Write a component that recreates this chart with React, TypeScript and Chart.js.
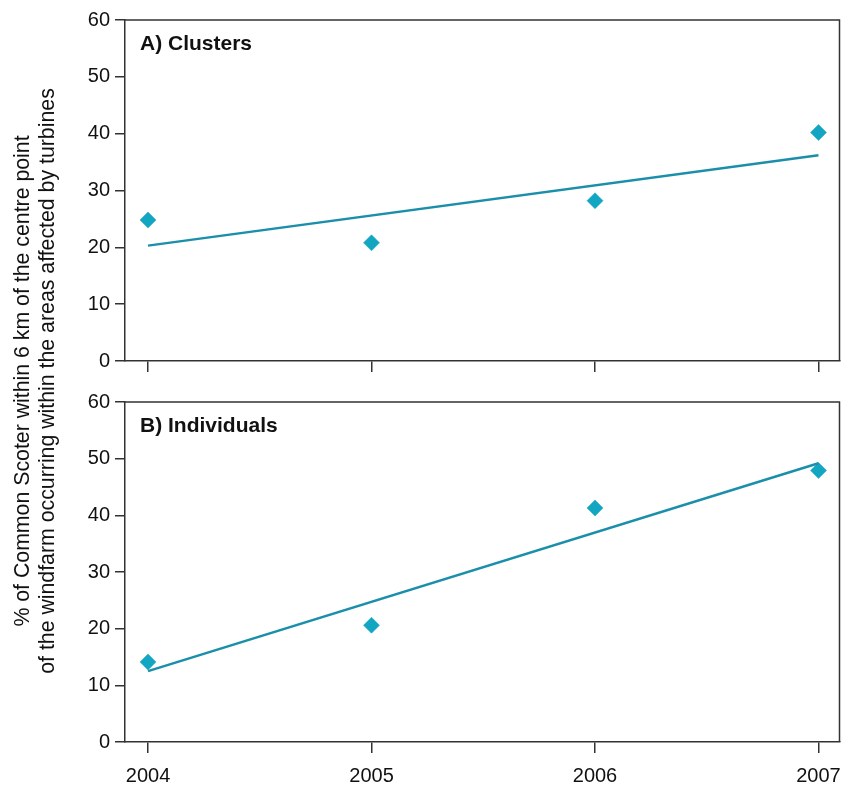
import { useEffect, useRef } from "react";
import { Chart, registerables } from "chart.js";

Chart.register(...registerables);

// ---- data ----
const years = [2004, 2005, 2006, 2007];
const clusters = [24.8, 20.8, 28.2, 40.2];
const trendYears = [2004, 2007];
const clustersTrend = [20.3, 36.2];
const individuals = [14.1, 20.6, 41.3, 47.9];
const individualsTrend = [12.5, 49.2];
const yTicks = [0, 10, 20, 30, 40, 50, 60];
const panelTitles = ["A) Clusters", "B) Individuals"];
const yTitleLines = [
  "% of Common Scoter within 6 km of the centre point",
  "of the windfarm occurring within the areas affected by turbines",
];

const FONT = "'Liberation Sans', Arial, Helvetica, sans-serif";
const AXIS = "#333333";
const POINT = "#12a6c2";
const LINE = "#1b8fa9";

function makeChart(
  canvas: HTMLCanvasElement,
  title: string,
  values: number[],
  trend: number[],
  showXLabels: boolean,
  padTop: number,
  xHeight: number
) {
  const boxPlugin = {
    id: "boxAndTitle",
    afterDraw(chart: any) {
      const { ctx, chartArea } = chart;
      const { left, right, top, bottom } = chartArea;
      ctx.save();
      ctx.strokeStyle = AXIS;
      ctx.lineWidth = 1.5;
      ctx.beginPath();
      ctx.moveTo(left, top);
      ctx.lineTo(right, top);
      ctx.lineTo(right, bottom);
      ctx.stroke();
      ctx.fillStyle = "#111";
      ctx.font = `bold 21px ${FONT}`;
      ctx.textBaseline = "middle";
      ctx.textAlign = "left";
      ctx.fillText(title, left + 15, top + 24);
      ctx.restore();
    },
  };

  return new Chart(canvas, {
    type: "scatter",
    data: {
      datasets: [
        {
          label: "trend",
          data: trendYears.map((x, i) => ({ x, y: trend[i] })),
          showLine: true,
          borderColor: LINE,
          borderWidth: 2.5,
          pointRadius: 0,
          fill: false,
        },
        {
          label: "values",
          data: years.map((x, i) => ({ x, y: values[i] })),
          showLine: false,
          pointStyle: "rectRot",
          pointRadius: 8,
          pointBackgroundColor: POINT,
          pointBorderColor: POINT,
          pointBorderWidth: 0.5,
        },
      ],
    },
    options: {
      responsive: false,
      animation: false,
      events: [],
      layout: { padding: { left: 0, right: 8, top: padTop, bottom: 0 } },
      plugins: {
        legend: { display: false },
        tooltip: { enabled: false },
        title: { display: false },
      },
      scales: {
        x: {
          type: "linear",
          min: 2003.897,
          max: 2007.094,
          afterBuildTicks: (s: any) => {
            s.ticks = years.map((v) => ({ value: v }));
          },
          afterFit: (s: any) => {
            s.height = xHeight;
            s.paddingLeft = 0;
            s.paddingRight = 0;
          },
          ticks: {
            display: showXLabels,
            autoSkip: false,
            maxRotation: 0,
            padding: 11,
            color: "#111",
            font: { size: 20, family: FONT },
            callback: (v: any) => String(v),
          },
          grid: {
            drawOnChartArea: false,
            drawTicks: true,
            tickLength: 11,
            color: AXIS,
            lineWidth: 1.5,
          },
          border: { display: true, color: AXIS, width: 1.5 },
        },
        y: {
          type: "linear",
          min: 0,
          max: 60,
          afterBuildTicks: (s: any) => {
            s.ticks = yTicks.map((v) => ({ value: v }));
          },
          afterFit: (s: any) => {
            s.width = 125;
          },
          ticks: {
            padding: 5,
            color: "#111",
            font: { size: 20, family: FONT },
            callback: (v: any) => String(v),
          },
          grid: {
            drawOnChartArea: false,
            drawTicks: true,
            tickLength: 10,
            color: AXIS,
            lineWidth: 1.5,
          },
          border: { display: true, color: AXIS, width: 1.5 },
        },
      },
    } as any,
    plugins: [boxPlugin],
  });
}

export default function App() {
  const refA = useRef<HTMLCanvasElement>(null);
  const refB = useRef<HTMLCanvasElement>(null);

  useEffect(() => {
    Chart.defaults.font.family = FONT;
    const a = makeChart(refA.current!, panelTitles[0], clusters, clustersTrend, false, 20, 24);
    const b = makeChart(refB.current!, panelTitles[1], individuals, individualsTrend, true, 16, 45);
    return () => {
      a.destroy();
      b.destroy();
    };
  }, []);

  return (
    <div style={{ position: "absolute", left: 0, top: 0, width: 848, height: 787, background: "#fff" }}>
      <canvas
        ref={refA}
        width={848}
        height={385}
        style={{ position: "absolute", left: 0, top: 0, display: "block" }}
      />
      <canvas
        ref={refB}
        width={848}
        height={402}
        style={{ position: "absolute", left: 0, top: 385, display: "block" }}
      />
      <div
        style={{
          position: "absolute",
          left: 35 - 350,
          top: 381 - 30,
          width: 700,
          height: 60,
          transform: "rotate(-90deg)",
          transformOrigin: "50% 50%",
          display: "flex",
          flexDirection: "column",
          justifyContent: "center",
          alignItems: "center",
          fontFamily: FONT,
          fontSize: 21.3,
          lineHeight: "25px",
          color: "#111",
          whiteSpace: "nowrap",
        }}
      >
        <div>{yTitleLines[0]}</div>
        <div>{yTitleLines[1]}</div>
      </div>
    </div>
  );
}
